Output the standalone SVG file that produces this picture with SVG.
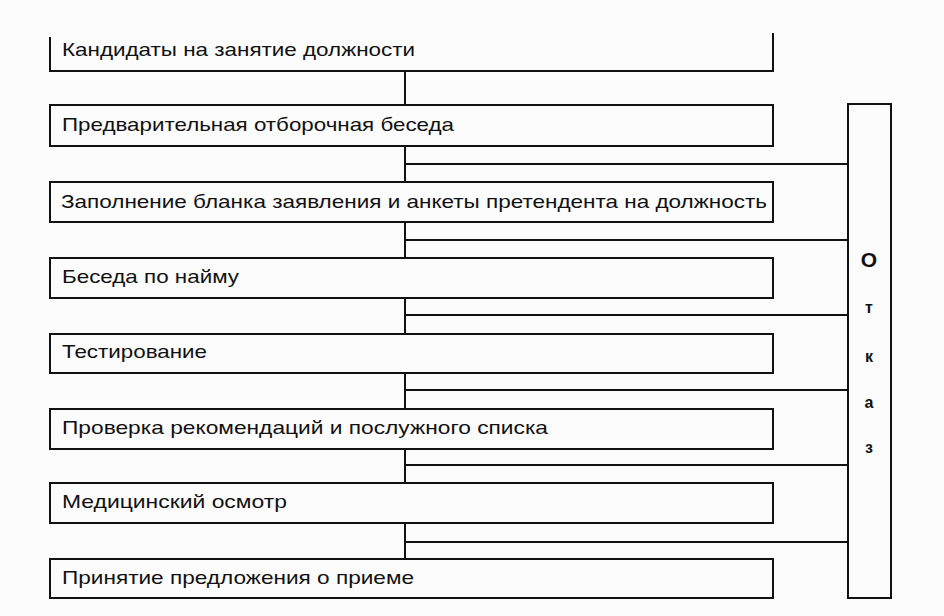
<svg xmlns="http://www.w3.org/2000/svg" width="944" height="616" viewBox="0 0 944 616">
<style>
.box{fill:none;stroke:#111;stroke-width:2}
.ln{fill:none;stroke:#111;stroke-width:2}
.t{font-family:"Liberation Sans",Arial,sans-serif;font-size:18.5px;fill:#111}
.s{font-family:"Liberation Sans",Arial,sans-serif;font-size:16px;font-weight:bold;fill:#111;text-anchor:middle}
</style>
<rect width="944" height="616" fill="#fcfcfc"/>
<g id="connectors">
<path class="ln" d="M405 71V105 M405 146V182 M405 222V258 M405 298V334 M405 373V409 M405 449V483 M405 523V559"/>
<path class="ln" d="M405 164H848 M405 240H848 M405 315H848 M405 390H848 M405 465H848 M405 542H848"/>
</g>
<g id="n1">
<path class="box" d="M50 37V71H773V33"/>
<text class="t" x="62" y="56" textLength="353" lengthAdjust="spacingAndGlyphs">Кандидаты на занятие должности</text>
</g>
<g id="n2">
<rect class="box" x="50" y="105" width="723" height="41"/>
<text class="t" x="62" y="131" textLength="392" lengthAdjust="spacingAndGlyphs">Предварительная отборочная беседа</text>
</g>
<g id="n3">
<rect class="box" x="50" y="182" width="723" height="40"/>
<text class="t" x="61" y="208" textLength="706" lengthAdjust="spacingAndGlyphs">Заполнение бланка заявления и анкеты претендента на должность</text>
</g>
<g id="n4">
<rect class="box" x="50" y="258" width="723" height="40"/>
<text class="t" x="62" y="283" textLength="177" lengthAdjust="spacingAndGlyphs">Беседа по найму</text>
</g>
<g id="n5">
<rect class="box" x="50" y="334" width="723" height="39"/>
<text class="t" x="62" y="358" textLength="145" lengthAdjust="spacingAndGlyphs">Тестирование</text>
</g>
<g id="n6">
<rect class="box" x="50" y="409" width="723" height="40"/>
<text class="t" x="62" y="434" textLength="486" lengthAdjust="spacingAndGlyphs">Проверка рекомендаций и послужного списка</text>
</g>
<g id="n7">
<rect class="box" x="50" y="483" width="723" height="40"/>
<text class="t" x="62" y="508" textLength="225" lengthAdjust="spacingAndGlyphs">Медицинский осмотр</text>
</g>
<g id="n8">
<rect class="box" x="50" y="559" width="723" height="39"/>
<text class="t" x="62" y="584" textLength="352" lengthAdjust="spacingAndGlyphs">Принятие предложения о приеме</text>
</g>
<g id="otkaz">
<rect class="box" x="848" y="104" width="43" height="494"/>
<text class="s" x="869" y="267" style="font-size:21px">О</text>
<text class="s" x="869" y="313">т</text>
<text class="s" x="869" y="362">к</text>
<text class="s" x="869" y="408">а</text>
<text class="s" x="869" y="453">з</text>
</g>
</svg>
